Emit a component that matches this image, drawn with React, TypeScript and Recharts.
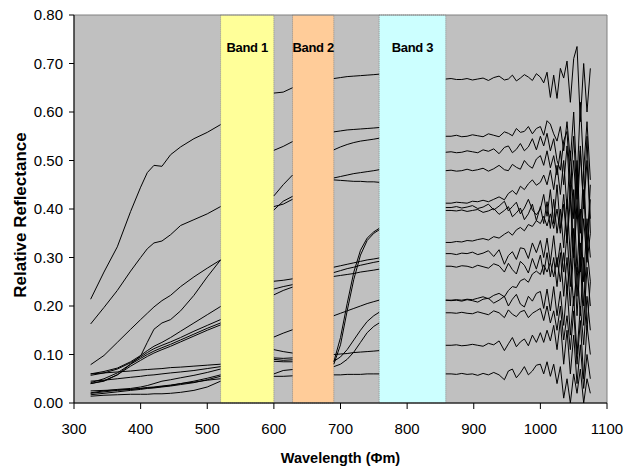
import { CartesianGrid, Line, LineChart, ReferenceArea, XAxis, YAxis } from "recharts";

const FONT = '"Liberation Sans", Arial, sans-serif';

// wavelengths (nm) of each visible stretch of the spectra
const visWl = [325, 345, 365, 385, 400, 410, 420, 432, 445, 460, 480, 500, 520];
const redWl = [600, 614, 628];
const edgeWl = [690, 700, 710, 720, 730, 740, 750, 758];
const nirWl = [
  858, 866, 874, 882, 890, 898, 906, 914, 922, 930, 938, 946, 952, 958, 964, 970, 976, 982,
  988, 994, 1000, 1005, 1010, 1015, 1020, 1025, 1030, 1035, 1040, 1045, 1050, 1055, 1060,
  1065, 1070, 1075,
];
// points inside the bands: lines break there
const gapWl = [560, 660, 808];

const xTicks = [300, 400, 500, 600, 700, 800, 900, 1000, 1100];
const yTicks = [0, 0.1, 0.2, 0.3, 0.4, 0.5, 0.6, 0.7, 0.8];

const bands = [
  { name: "Band 1", from: 520, to: 600, color: "#FFFF99" },
  { name: "Band 2", from: 628, to: 690, color: "#FFCC99" },
  { name: "Band 3", from: 758, to: 858, color: "#CCFFFF" },
];

// reflectance, 325-520 nm
const visible = [
  [0.214, 0.27, 0.322, 0.395, 0.445, 0.475, 0.49, 0.488, 0.512, 0.528, 0.545, 0.558, 0.574],
  [0.163, 0.197, 0.232, 0.272, 0.3, 0.318, 0.33, 0.334, 0.347, 0.366, 0.378, 0.39, 0.405],
  [0.079, 0.098, 0.125, 0.152, 0.172, 0.185, 0.198, 0.211, 0.222, 0.24, 0.26, 0.278, 0.295],
  [0.04, 0.045, 0.058, 0.08, 0.097, 0.125, 0.152, 0.165, 0.172, 0.19, 0.222, 0.26, 0.295],
  [0.06, 0.065, 0.072, 0.085, 0.098, 0.108, 0.117, 0.125, 0.135, 0.148, 0.165, 0.182, 0.199],
  [0.057, 0.062, 0.07, 0.083, 0.095, 0.104, 0.112, 0.119, 0.126, 0.135, 0.148, 0.16, 0.172],
  [0.042, 0.05, 0.062, 0.08, 0.092, 0.1, 0.107, 0.114, 0.121, 0.13, 0.142, 0.154, 0.165],
  [0.04, 0.046, 0.058, 0.076, 0.088, 0.096, 0.103, 0.11, 0.117, 0.126, 0.138, 0.15, 0.161],
  [0.06, 0.062, 0.064, 0.066, 0.068, 0.069, 0.07, 0.071, 0.073, 0.074, 0.076, 0.078, 0.08],
  [0.045, 0.047, 0.05, 0.053, 0.055, 0.057, 0.058, 0.06, 0.062, 0.064, 0.067, 0.071, 0.075],
  [0.021, 0.025, 0.028, 0.03, 0.033, 0.036, 0.04, 0.045, 0.048, 0.052, 0.057, 0.063, 0.07],
  [0.02, 0.023, 0.026, 0.028, 0.03, 0.031, 0.032, 0.034, 0.036, 0.04, 0.045, 0.051, 0.058],
  [0.017, 0.02, 0.023, 0.026, 0.028, 0.03, 0.031, 0.033, 0.035, 0.038, 0.042, 0.048, 0.055],
  [0.014, 0.016, 0.017, 0.018, 0.018, 0.018, 0.019, 0.019, 0.02, 0.022, 0.026, 0.033, 0.045],
  [0.025, 0.026, 0.027, 0.028, 0.03, 0.032, 0.033, 0.035, 0.037, 0.04, 0.043, 0.047, 0.05],
];

// reflectance, 600-628 nm
const red = [
  [0.639, 0.641, 0.65],
  [0.521, 0.529, 0.539],
  [0.427, 0.45, 0.47],
  [0.398, 0.416, 0.426],
  [0.405, 0.41, 0.42],
  [0.251, 0.253, 0.256],
  [0.235, 0.24, 0.244],
  [0.223, 0.232, 0.239],
  [0.136, 0.144, 0.151],
  [0.11, 0.106, 0.103],
  [0.093, 0.092, 0.093],
  [0.09, 0.088, 0.089],
  [0.086, 0.085, 0.085],
  [0.06, 0.067, 0.069],
  [0.055, 0.055, 0.056],
];

// reflectance, 690-758 nm
const edge = [
  [0.669, 0.671, 0.673, 0.674, 0.675, 0.676, 0.677, 0.678],
  [0.559, 0.561, 0.563, 0.564, 0.565, 0.566, 0.567, 0.568],
  [0.522, 0.528, 0.533, 0.537, 0.54, 0.542, 0.544, 0.546],
  [0.464, 0.467, 0.47, 0.473, 0.475, 0.477, 0.479, 0.481],
  [0.46, 0.459, 0.458, 0.457, 0.457, 0.456, 0.456, 0.455],
  [0.28, 0.283, 0.286, 0.289, 0.292, 0.295, 0.297, 0.299],
  [0.269, 0.273, 0.277, 0.28, 0.284, 0.287, 0.29, 0.292],
  [0.261, 0.263, 0.265, 0.267, 0.27, 0.272, 0.274, 0.276],
  [0.18, 0.185, 0.19, 0.195, 0.2, 0.205, 0.209, 0.212],
  [0.085, 0.135, 0.205, 0.27, 0.315, 0.34, 0.353, 0.36],
  [0.08, 0.12, 0.19, 0.255, 0.305, 0.335, 0.35, 0.357],
  [0.086, 0.095, 0.11, 0.13, 0.15, 0.168, 0.18, 0.187],
  [0.075, 0.08, 0.09, 0.105, 0.125, 0.145, 0.158, 0.165],
  [0.1, 0.101, 0.102, 0.104, 0.105, 0.106, 0.107, 0.108],
  [0.058, 0.058, 0.059, 0.059, 0.059, 0.06, 0.06, 0.06],
];

// reflectance, 858-1075 nm (noisy)
const nir = [
  [0.668, 0.669, 0.667, 0.667, 0.669, 0.666, 0.668, 0.67, 0.665, 0.671, 0.674, 0.666, 0.668, 0.676, 0.664, 0.67, 0.677, 0.672, 0.665, 0.679, 0.672, 0.66, 0.682, 0.63, 0.676, 0.628, 0.69, 0.67, 0.705, 0.62, 0.71, 0.735, 0.58, 0.7, 0.6, 0.69],
  [0.55, 0.55, 0.552, 0.549, 0.55, 0.553, 0.551, 0.549, 0.555, 0.552, 0.549, 0.559, 0.556, 0.551, 0.566, 0.558, 0.56, 0.57, 0.555, 0.566, 0.57, 0.552, 0.582, 0.575, 0.555, 0.54, 0.57, 0.52, 0.58, 0.5, 0.6, 0.45, 0.62, 0.48, 0.58, 0.46],
  [0.517, 0.518, 0.516, 0.517, 0.52, 0.518, 0.516, 0.522, 0.519, 0.524, 0.514, 0.527, 0.53, 0.516, 0.523, 0.535, 0.52, 0.528, 0.545, 0.522, 0.55, 0.53, 0.556, 0.52, 0.545, 0.5, 0.48, 0.54, 0.56, 0.45, 0.55, 0.42, 0.53, 0.4, 0.5, 0.38],
  [0.479, 0.48, 0.478, 0.479, 0.482, 0.479, 0.481, 0.484, 0.478, 0.483, 0.49, 0.481, 0.479, 0.492, 0.486, 0.482, 0.5, 0.49, 0.484, 0.503, 0.51, 0.49, 0.52, 0.485, 0.51, 0.47, 0.52, 0.45, 0.53, 0.42, 0.5, 0.38, 0.52, 0.4, 0.55, 0.35],
  [0.412, 0.412, 0.414, 0.413, 0.412, 0.416, 0.415, 0.418, 0.415, 0.42, 0.425, 0.419, 0.432, 0.438, 0.43, 0.447, 0.44, 0.452, 0.46, 0.449, 0.455, 0.47, 0.45, 0.48, 0.44, 0.49, 0.43, 0.5, 0.4, 0.52, 0.38, 0.5, 0.35, 0.48, 0.32, 0.45],
  [0.331, 0.331, 0.333, 0.332, 0.335, 0.334, 0.337, 0.339, 0.336, 0.343, 0.34, 0.348, 0.353, 0.346, 0.357, 0.362, 0.355, 0.368, 0.364, 0.376, 0.37, 0.385, 0.365, 0.39, 0.36, 0.4, 0.35, 0.41, 0.33, 0.42, 0.3, 0.4, 0.27, 0.38, 0.29, 0.35],
  [0.308, 0.308, 0.306, 0.309, 0.308, 0.311, 0.306, 0.309, 0.314, 0.302, 0.316, 0.286, 0.304, 0.312, 0.296, 0.32, 0.318, 0.298, 0.33, 0.31, 0.335, 0.3, 0.34, 0.29, 0.345, 0.28, 0.33, 0.27, 0.35, 0.24, 0.36, 0.22, 0.33, 0.2, 0.32, 0.25],
  [0.282, 0.282, 0.28, 0.283, 0.282, 0.279, 0.284, 0.281, 0.278, 0.287, 0.283, 0.27, 0.288, 0.275, 0.266, 0.292, 0.284, 0.268, 0.298, 0.276, 0.305, 0.265, 0.31, 0.26, 0.3, 0.24, 0.31, 0.22, 0.3, 0.2, 0.32, 0.18, 0.3, 0.16, 0.28, 0.2],
  [0.212, 0.212, 0.213, 0.212, 0.214, 0.213, 0.216, 0.219, 0.215, 0.222, 0.226, 0.219, 0.232, 0.24, 0.238, 0.252, 0.256, 0.249, 0.266, 0.272, 0.265, 0.285, 0.27, 0.29, 0.26, 0.3, 0.25, 0.31, 0.23, 0.3, 0.2, 0.28, 0.18, 0.3, 0.15, 0.25],
  [0.403, 0.403, 0.405, 0.402, 0.404, 0.407, 0.401, 0.404, 0.41, 0.398, 0.406, 0.416, 0.396, 0.405, 0.414, 0.39, 0.402, 0.42, 0.398, 0.388, 0.4, 0.43, 0.385, 0.44, 0.37, 0.45, 0.36, 0.43, 0.34, 0.45, 0.3, 0.47, 0.28, 0.44, 0.3, 0.42],
  [0.397, 0.397, 0.396, 0.398, 0.395, 0.397, 0.399, 0.393, 0.396, 0.401, 0.389, 0.397, 0.405, 0.384, 0.392, 0.402, 0.378, 0.39, 0.41, 0.376, 0.405, 0.37, 0.415, 0.36, 0.42, 0.35, 0.4, 0.32, 0.42, 0.3, 0.44, 0.27, 0.4, 0.25, 0.38, 0.3],
  [0.212, 0.211, 0.212, 0.21, 0.213, 0.211, 0.208, 0.214, 0.216, 0.206, 0.212, 0.22, 0.2, 0.214, 0.224, 0.204, 0.198, 0.22, 0.21, 0.226, 0.23, 0.195, 0.235, 0.19, 0.24, 0.18, 0.23, 0.16, 0.24, 0.14, 0.22, 0.1, 0.2, 0.12, 0.22, 0.15],
  [0.186, 0.186, 0.185, 0.187, 0.185, 0.184, 0.188, 0.185, 0.182, 0.19, 0.186, 0.176, 0.192, 0.183, 0.178, 0.188, 0.191, 0.176, 0.185, 0.19, 0.195, 0.17, 0.2, 0.165, 0.19, 0.15, 0.2, 0.13, 0.18, 0.11, 0.19, 0.08, 0.17, 0.05, 0.16, 0.1],
  [0.119, 0.119, 0.12, 0.118, 0.119, 0.121, 0.119, 0.117, 0.123, 0.12, 0.128, 0.108, 0.122, 0.135, 0.116, 0.126, 0.132, 0.118, 0.14, 0.125, 0.145, 0.125, 0.15, 0.128, 0.16, 0.11, 0.17, 0.08, 0.15, 0.06, 0.14, 0.04, 0.12, 0.03, 0.1, 0.05],
  [0.06, 0.06, 0.059, 0.061, 0.059, 0.06, 0.057, 0.061, 0.058, 0.063, 0.058, 0.048, 0.066, 0.07, 0.052, 0.062, 0.075, 0.058, 0.066, 0.078, 0.08, 0.06, 0.085, 0.055, 0.08, 0.04, 0.075, 0.01, 0.05, 0, 0.06, 0.02, 0.07, 0, 0.05, 0.02],
];

const wavelengths = [...visWl, gapWl[0], ...redWl, gapWl[1], ...edgeWl, gapWl[2], ...nirWl];
const series = visible.map((v, i) => [...v, null, ...red[i], null, ...edge[i], null, ...nir[i]]);
const keys = series.map((_, i) => `s${i + 1}`);

const data = wavelengths.map((w, j) => {
  const row: Record<string, number | null> = { wl: w };
  series.forEach((s, i) => {
    row[keys[i]] = s[j];
  });
  return row;
});

const YTitle = ({ viewBox }: any) => {
  const x = (viewBox?.x ?? 0) + 20;
  const y = (viewBox?.y ?? 15) + (viewBox?.height ?? 388) / 2 + 6;
  return (
    <text
      x={x}
      y={y}
      transform={`rotate(-90 ${x} ${y})`}
      textAnchor="middle"
      dominantBaseline="central"
      fontFamily={FONT}
      fontSize={17}
      fontWeight="bold"
      fill="#000"
    >
      Relative Reflectance
    </text>
  );
};

export default function App() {
  return (
    <div style={{ position: "absolute", left: 0, top: 0, fontFamily: FONT }}>
      <LineChart width={625} height={468} data={data} margin={{ top: 15, right: 18, bottom: 0, left: 0 }}>
        <CartesianGrid fill="#C0C0C0" horizontal={false} vertical={false} />
        <XAxis
          type="number"
          dataKey="wl"
          domain={[300, 1100]}
          ticks={xTicks}
          height={65}
          stroke="#000"
          tickSize={6}
          tickMargin={14}
          tick={{ fill: "#000", fontSize: 15, fontFamily: FONT }}
          label={{
            value: "Wavelength (Φm)",
            position: "insideBottom",
            offset: 5,
            fill: "#000",
            fontSize: 14.5,
            fontWeight: "bold",
            fontFamily: FONT,
          }}
        />
        <YAxis
          type="number"
          domain={[0, 0.8]}
          ticks={yTicks}
          width={74}
          stroke="#000"
          tickSize={5}
          tickMargin={6}
          allowDataOverflow
          tickFormatter={(v: number) => v.toFixed(2)}
          tick={{ fill: "#000", fontSize: 15, fontFamily: FONT }}
          label={{ content: YTitle }}
        />
        {keys.map((k) => (
          <Line
            key={k}
            type="linear"
            dataKey={k}
            stroke="#000"
            strokeWidth={1}
            dot={false}
            activeDot={false}
            connectNulls={false}
            isAnimationActive={false}
          />
        ))}
        {bands.map((b) => (
          <ReferenceArea
            key={b.name}
            x1={b.from}
            x2={b.to}
            y1={0}
            y2={0.8}
            fill={b.color}
            fillOpacity={1}
            stroke="#808080"
            strokeWidth={0.8}
            strokeDasharray="1 1"
            label={{
              value: b.name,
              position: "insideTop",
              offset: 28,
              fill: "#000",
              fontSize: 13,
              fontWeight: "bold",
              fontFamily: FONT,
              letterSpacing: -0.3,
            }}
          />
        ))}
        <ReferenceArea x1={300} x2={1100} y1={0} y2={0.8} fill="none" stroke="#808080" strokeWidth={1} />
      </LineChart>
    </div>
  );
}
